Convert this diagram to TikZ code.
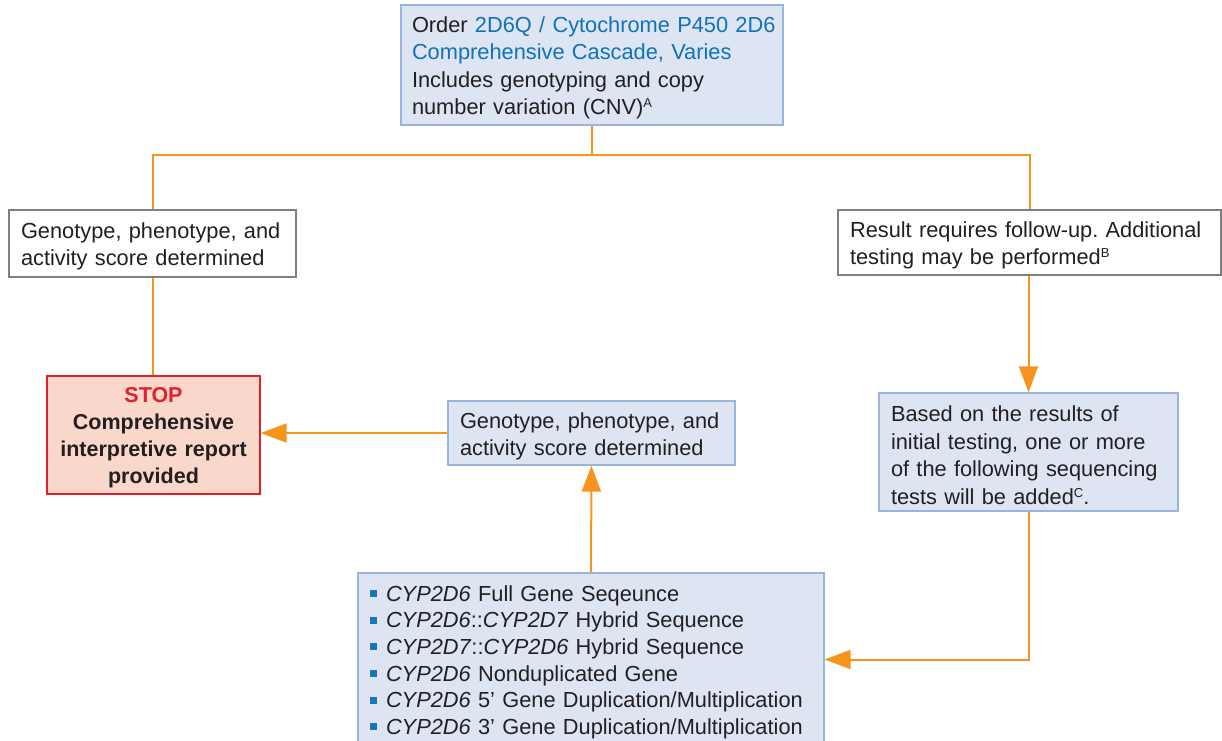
\documentclass[tikz,border=0pt]{standalone}
\usepackage{fontspec}
\setmainfont{Liberation Sans}
\frenchspacing
\usetikzlibrary{arrows.meta}
\definecolor{txt}{HTML}{231F20}
\definecolor{bfill}{HTML}{DDE5F3}
\definecolor{bline}{HTML}{9BB4DD}
\definecolor{gline}{HTML}{808080}
\definecolor{pfill}{HTML}{F9D7CB}
\definecolor{rline}{HTML}{E0202A}
\definecolor{org}{HTML}{F7941D}
\definecolor{lnk}{HTML}{0F72BA}
\definecolor{bul}{HTML}{1B75BB}
\tikzset{
  base/.style={rectangle, text=txt, inner ysep=0pt, align=left,
    font=\fontsize{21.8}{27.5}\selectfont},
  bluebox/.style={base, fill=bfill, draw=bline, line width=1.2pt},
  whitebox/.style={base, fill=white, draw=gline, line width=1.3pt},
  stopbox/.style={base, fill=pfill, draw=rline, line width=1.3pt, align=center,
    font=\fontsize{21.5}{27}\selectfont\bfseries},
  conn/.style={draw=org, line width=2pt},
  arr/.style={conn, -{Triangle[length=26pt,width=19pt]}}
}
\newcommand{\sq}{{\color{bul}\raisebox{4pt}{\rule{7pt}{7pt}}}\hspace{9pt}}
\newcommand{\sups}[1]{\raisebox{7pt}{\fontsize{13}{13}\selectfont #1}}
\begin{document}
\begin{tikzpicture}[x=1pt,y=-1pt]
\useasboundingbox (0,0) rectangle (1222,740);
\begin{scope}
\clip (0,0) rectangle (1222,740);
\node[bluebox, minimum width=382pt, minimum height=120pt, text width=360pt, inner xsep=11pt] (top) at (592,65)
  {\rule{0pt}{22pt}\mbox{Order {\color{lnk}2D6Q / Cytochrome P450 2D6}}\\
   \mbox{\color{lnk}Comprehensive Cascade, Varies}\\
   \mbox{Includes genotyping and copy}\\
   \mbox{number variation (CNV)\sups{A}}};
\node[whitebox, minimum width=287pt, minimum height=67pt, text width=263pt, inner xsep=12pt] (left) at (152.5,243.5)
  {\rule{0pt}{22pt}Genotype, phenotype, and\\activity score determined};
\node[whitebox, minimum width=383pt, minimum height=65pt, text width=359pt, inner xsep=12pt] (right) at (1029.5,242.5)
  {\rule{0pt}{22pt}Result requires follow-up. Additional\\testing may be performed\sups{B}};
\node[stopbox, minimum width=213pt, minimum height=118pt, text width=200pt, inner xsep=6pt] (stop) at (153.5,435)
  {\rule{0pt}{21pt}{\color{rline}STOP}\\Comprehensive\\interpretive report\\provided};
\node[bluebox, minimum width=287pt, minimum height=64pt, text width=263pt, inner xsep=12pt] (mid) at (591.5,433)
  {\rule{0pt}{22pt}Genotype, phenotype, and\\activity score determined};
\node[bluebox, minimum width=299pt, minimum height=118pt, text width=275pt, inner xsep=12pt] (rb) at (1028.5,452)
  {\rule{0pt}{22pt}Based on the results of\\initial testing, one or more\\of the following sequencing\\tests will be added\sups{C}.};
\node[bluebox, minimum width=466pt, minimum height=173pt, text width=442pt, inner xsep=12pt,
  font=\fontsize{21.8}{26.6}\selectfont] (bot) at (591,659.5)
  {\rule{0pt}{21pt}\sq\textit{CYP2D6} Full Gene Seqeunce\\
   \sq\textit{CYP2D6}::\textit{CYP2D7} Hybrid Sequence\\
   \sq\textit{CYP2D7}::\textit{CYP2D6} Hybrid Sequence\\
   \sq\textit{CYP2D6} Nonduplicated Gene\\
   \sq\textit{CYP2D6} 5’ Gene Duplication/Multiplication\\
   \sq\textit{CYP2D6} 3’ Gene Duplication/Multiplication};
\coordinate (j) at (592,155);
\draw[conn] (top.south) -- (j);
\draw[conn] (left.north) |- (j) -| (right.north);
\draw[conn] (left.south) -- (left.south |- stop.north);
\draw[arr] (right.south -| rb.north) -- (rb.north);
\draw[arr] (rb.south) |- (bot.east);
\draw[arr] (bot.north) -- (mid.south);
\draw[arr] (mid.west) -- (mid.west -| stop.east);
\end{scope}
\end{tikzpicture}
\end{document}
